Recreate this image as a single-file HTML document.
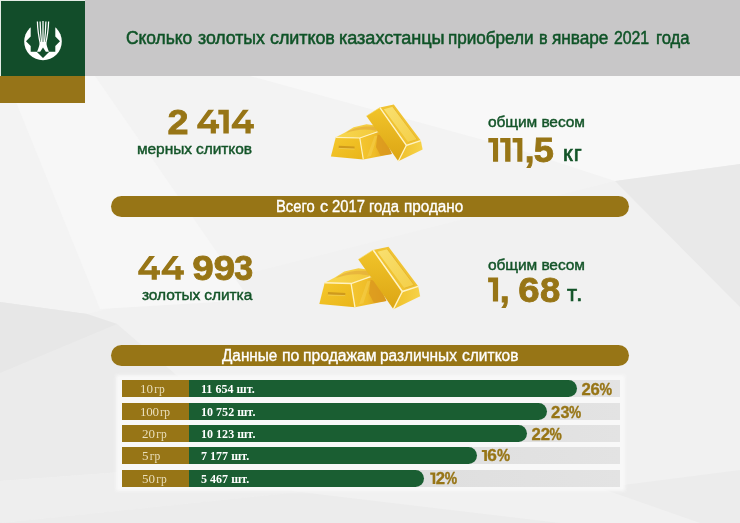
<!DOCTYPE html>
<html><head><meta charset="utf-8">
<style>
html,body{margin:0;padding:0;}
body{width:740px;height:523px;position:relative;overflow:hidden;background:#ededed;font-family:"Liberation Sans",sans-serif;}
.abs{position:absolute;}
.hdr{left:0;top:0;width:740px;height:76px;background:#c8c7c8;}
.logo{left:1px;top:1px;width:84px;height:75px;background:#124d2a;}
.logo2{left:0px;top:76px;width:85px;height:26.5px;background:#967418;}
.title{will-change:transform;left:0;top:27.8px;width:740px;height:20px;font-size:17.5px;line-height:20px;color:#0f5327;white-space:nowrap;letter-spacing:-0.05px;-webkit-text-stroke:0.5px #0f5327;}
.big{font-weight:bold;color:#977516;white-space:nowrap;font-size:34.6px;line-height:40px;}
.grn{color:#135428;white-space:nowrap;font-size:15.5px;line-height:18px;letter-spacing:-0.08px;-webkit-text-stroke:0.45px #135428;will-change:transform;}
.banner{left:111px;width:518px;height:21px;border-radius:10.5px;background:#977516;}
.btxt{will-change:transform;color:#fff;font-size:16px;line-height:18px;white-space:nowrap;-webkit-text-stroke:0.35px #fff;}
.panel{left:118px;top:377px;width:505px;height:112px;background:#f8f8f8;box-shadow:0 0 3px 2px #f8f8f8;}
.row{left:122px;width:498px;height:17px;}
.track{position:absolute;left:0;top:0;width:498px;height:17px;background:linear-gradient(90deg,#d8d8d8,#e3e3e3);}
.lab{position:absolute;left:0;top:0;width:67px;height:17px;background:#977516;}
.ltxt{will-change:transform;position:absolute;top:0;color:#eadfbc;font-family:"Liberation Serif",serif;font-size:13px;line-height:17px;white-space:nowrap;}
.bar{position:absolute;left:67px;top:0;height:17px;background:#1a5e32;border-radius:0 8.5px 8.5px 0;}
.cnt{will-change:transform;position:absolute;left:78.6px;letter-spacing:0.03px;top:1px;color:#fff;font-family:"Liberation Serif",serif;font-weight:bold;font-size:12px;line-height:17px;white-space:nowrap;}
.pct{will-change:transform;position:absolute;top:1.5px;letter-spacing:-0.3px;color:#977516;font-weight:bold;font-size:15.7px;line-height:17px;white-space:nowrap;}
.title span,.btxt span{position:absolute;top:0;transform-origin:0 0;}
</style></head><body>
<svg class="abs" style="left:0;top:0" width="740" height="523" viewBox="0 0 740 523">
  <rect x="0" y="0" width="740" height="523" fill="#f1f1f1"/>
  <polygon points="0,76 740,76 740,164 615,181 87,314 0,302" fill="#f3f3f3"/>
  <polygon points="16,102 85,102 85,76 95,76 250,300 100,309" fill="#f7f7f7"/>
  <polygon points="250,76 740,76 740,164 615,181 520,150" fill="#f8f8f8"/>
  <polygon points="615,181 740,164 740,307" fill="#e9e9e9"/>
  <polygon points="0,302 87,314 117,324 182,380 150,470 0,481" fill="#ebebeb"/>
  <polygon points="0,302 87,314 117,324 0,373" fill="#e7e7e7"/>
  <polygon points="0,481 150,470 300,492 0,523" fill="#eeeeee"/>
  <polygon points="0,523 300,492 560,523" fill="#ececec"/>
  <polygon points="600,488 740,470 740,523 700,523" fill="#ececec"/>
</svg>
<div class="abs hdr"></div>
<div class="abs" style="left:0;top:0;width:85px;height:76px;background:#e4ece6"></div>
<div class="abs logo"></div>
<div class="abs logo2"></div>
<svg class="abs" style="left:0;top:0" width="86" height="76" viewBox="0 0 86 76">
  <circle cx="43" cy="41.5" r="18.8" fill="#fff"/>
  <polygon fill="#124d2a" points="30.7,20 55.3,20 55.3,36.5 60,41.3 55.3,46 55.3,51.8 49.3,51.8 43,58 36.7,51.8 30.7,51.8 30.7,46 26,41.3 30.7,36.5"/>
  <g stroke="#fff" stroke-width="1.25" fill="none" stroke-linecap="butt">
    <path d="M37.4,21.5 C37.6,30 39,38 40.6,45"/>
    <path d="M40.1,21.5 C40.3,30 41,38 41.8,45"/>
    <path d="M43,21 C43,30 43,38 43,45"/>
    <path d="M45.9,21.5 C45.7,30 45,38 44.2,45"/>
    <path d="M48.6,21.5 C48.4,30 47,38 45.4,45"/>
  </g>
  <path fill="#fff" d="M40,42 L46,42 C46.5,45 47.5,48.5 49,51.8 L45.8,51.8 L43,47.5 L40.2,51.8 L37,51.8 C38.5,48.5 39.5,45 40,42 Z"/>
</svg>
<div class="abs title"><span style="left:126.20px;transform:scaleX(0.997)">Сколько</span><span style="left:198.00px;transform:scaleX(1.015)">золотых</span><span style="left:270.10px;transform:scaleX(1.024)">слитков</span><span style="left:338.66px;transform:scaleX(1.036)">казахстанцы</span><span style="left:448.22px;transform:scaleX(0.980)">приобрели</span><span style="left:539.38px;transform:scaleX(0.925)">в</span><span style="left:552.40px;transform:scaleX(0.984)">январе</span><span style="left:614.00px;transform:scaleX(0.905)">2021</span><span style="left:655.65px;transform:scaleX(0.954)">года</span></div>

<div class="abs grn" style="left:137px;top:140px;">мерных слитков</div>
<div class="abs grn" style="left:487.5px;top:113px;">общим весом</div>
<div class="abs grn" style="left:562.5px;top:143px;font-size:22px;line-height:22px;letter-spacing:1.2px;-webkit-text-stroke:0.7px #135428;">кг</div>

<svg class="abs" style="left:0;top:0" width="740" height="523" viewBox="0 0 740 523">
  <defs>
    <linearGradient id="gF" x1="0" y1="0" x2="1" y2="1"><stop offset="0" stop-color="#f5c82c"/><stop offset="1" stop-color="#e9b51a"/></linearGradient>
    <linearGradient id="gT" x1="0" y1="0" x2="1" y2="0"><stop offset="0" stop-color="#f8d850"/><stop offset="1" stop-color="#f3c93c"/></linearGradient>
    <linearGradient id="gR" x1="0" y1="0" x2="1" y2="0"><stop offset="0" stop-color="#f4c630"/><stop offset="0.45" stop-color="#efbd28"/><stop offset="1" stop-color="#d8941a"/></linearGradient>
    <linearGradient id="gL" x1="0" y1="0" x2="0" y2="1"><stop offset="0" stop-color="#f1c42a"/><stop offset="1" stop-color="#dca514"/></linearGradient>
    <linearGradient id="gP" x1="0" y1="0" x2="1" y2="1"><stop offset="0" stop-color="#f9e070"/><stop offset="1" stop-color="#f4cf48"/></linearGradient>
    <linearGradient id="gE" x1="0" y1="0" x2="1" y2="0"><stop offset="0" stop-color="#efc02a"/><stop offset="1" stop-color="#f6d248"/></linearGradient>
  </defs>

  <g id="gb">
  <!-- left bar top face -->
  <polygon points="335.8,137.3 359.8,138.0 377,132 376,125.5 366.5,124.2 353.6,127.2 345,132.5" fill="url(#gT)"/>
  <path d="M346,133 C352,128 362,125.5 376,126.8 L376.8,131 C366,128.5 356,129.5 346,133 Z" fill="#dfa63a" opacity="0.6"/>
  <!-- left bar right face -->
  <polygon points="359.8,138.0 377,132 384,136 392,154 363.3,159.5" fill="url(#gR)"/>
  <polygon points="377.5,134.5 384,136.5 391,154 380.5,155.5 376,147" fill="#dc9a1e" opacity="0.85"/>
  <polygon points="367,157 374.5,136 377.5,135.5 371,156" fill="#f8da62" opacity="0.35"/>
  <!-- left bar front -->
  <polygon points="330.9,156.6 335.8,137.3 359.8,138.0 363.3,159.5" fill="url(#gF)"/>
  <polyline points="335.8,137.3 359.8,138.0 377,132" fill="none" stroke="#fff2c0" stroke-width="1.2"/>
  <line x1="359.8" y1="138.0" x2="363.3" y2="159.5" stroke="#fff2c0" stroke-width="1.2"/>
  <polygon points="338.8,145.8 354.6,146.6 354.5,148.8 338.7,148.2" fill="#cf9a1c"/>
  <line x1="338.8" y1="148.4" x2="354.5" y2="149" stroke="#f8dc70" stroke-width="0.5"/>
  <!-- right bar left face -->
  <polygon points="366.4,116.1 379.9,107.6 406.4,145.3 398.3,161.3" fill="url(#gL)"/>
  <!-- right bar top face -->
  <polygon points="379.9,107.6 393.8,104.5 420.8,140.6 406.4,145.3" fill="#f0c332"/>
  <polygon points="383.8,109.2 392.8,106.8 417.3,139.5 408.3,142.3" fill="url(#gP)"/>
  <polyline points="392.8,106.8 417.3,139.5 408.3,142.3" fill="none" stroke="#e2b02a" stroke-width="0.7"/>
  <!-- end face -->
  <polygon points="406.4,145.3 420.8,140.6 422.6,149.5 398.3,161.3" fill="url(#gE)"/>
  <polyline points="379.9,107.6 406.4,145.3 420.8,140.6" fill="none" stroke="#fff3c4" stroke-width="1.4"/>
  <line x1="406.4" y1="145.3" x2="398.3" y2="161.3" stroke="#fff3c4" stroke-width="1.3"/>
  <line x1="366.4" y1="116.1" x2="379.9" y2="107.6" stroke="#f9dc6a" stroke-width="0.6"/>
</g>

  <use href="#gb" transform="matrix(1.1,0,0,1.1,-44.7,131.7)"/>
</svg>

<svg class="abs" style="left:0;top:0" width="740" height="523" viewBox="0 0 740 523"><g fill="#977516" font-family="Liberation Sans" font-weight="bold" font-size="34.6">
<text transform="translate(167.54,133.60) scale(1.093,1)" stroke="#977516" stroke-width="0.82">2</text>
<polygon points="208.24,109.80 214.08,109.80 203.22,123.98 210.73,123.98 210.73,119.82 215.92,119.82 215.92,123.98 219.10,123.98 219.10,128.58 215.92,128.58 215.92,133.60 210.73,133.60 210.73,128.58 197.20,128.58 197.20,125.08"/>
<polygon points="218.30,109.80 228.80,109.80 228.80,133.60 223.34,133.60 223.34,114.39 218.30,114.39"/>
<polygon points="242.89,109.80 248.82,109.80 237.81,123.98 245.42,123.98 245.42,119.82 250.68,119.82 250.68,123.98 253.90,123.98 253.90,128.58 250.68,128.58 250.68,133.60 245.42,133.60 245.42,128.58 231.70,128.58 231.70,125.08"/>
<polygon points="488.30,137.90 498.10,137.90 498.10,161.70 493.00,161.70 493.00,142.49 488.30,142.49"/>
<polygon points="500.20,137.90 510.50,137.90 510.50,161.70 505.14,161.70 505.14,142.49 500.20,142.49"/>
<polygon points="512.60,137.90 522.40,137.90 522.40,161.70 517.30,161.70 517.30,142.49 512.60,142.49"/>
<text transform="translate(524.78,161.70) scale(1.010,1)" stroke="#977516" stroke-width="0.89">,</text>
<text transform="translate(533.64,161.70) scale(1.046,1)" stroke="#977516" stroke-width="0.86">5</text>
<polygon points="149.19,256.00 155.01,256.00 144.19,270.13 151.67,270.13 151.67,265.98 156.84,265.98 156.84,270.13 160.00,270.13 160.00,274.70 156.84,274.70 156.84,279.70 151.67,279.70 151.67,274.70 138.20,274.70 138.20,271.22"/>
<polygon points="172.84,256.00 178.79,256.00 167.73,270.13 175.38,270.13 175.38,265.98 180.67,265.98 180.67,270.13 183.90,270.13 183.90,274.70 180.67,274.70 180.67,279.70 175.38,279.70 175.38,274.70 161.60,274.70 161.60,271.22"/>
<text transform="translate(192.21,279.70) scale(1.116,1)" stroke="#977516" stroke-width="0.81">9</text>
<text transform="translate(213.60,279.70) scale(1.122,1)" stroke="#977516" stroke-width="0.80">9</text>
<text transform="translate(234.27,279.70) scale(0.983,1)" stroke="#977516" stroke-width="0.92">3</text>
<polygon points="488.10,277.60 498.10,277.60 498.10,301.50 492.90,301.50 492.90,282.21 488.10,282.21"/>
<text transform="translate(499.83,301.50) scale(1.030,1)" stroke="#977516" stroke-width="0.87">,</text>
<text transform="translate(518.14,301.50) scale(1.112,1)" stroke="#977516" stroke-width="0.81">6</text>
<text transform="translate(540.09,301.50) scale(1.054,1)" stroke="#977516" stroke-width="0.85">8</text>
</g></svg>
<div class="abs banner" style="top:196px;"></div>
<div class="abs btxt" style="left:0;top:198px;width:740px;height:18px"><span style="left:276.48px;transform:scaleX(0.924)">Всего</span><span style="left:320.00px;transform:scaleX(1.013)">с</span><span style="left:332.20px;transform:scaleX(0.926)">2017</span><span style="left:369.07px;transform:scaleX(0.931)">года</span><span style="left:403.75px;transform:scaleX(0.954)">продано</span></div>

<div class="abs grn" style="left:141.5px;top:286px;">золотых слитка</div>
<div class="abs grn" style="left:487.5px;top:256px;">общим весом</div>
<div class="abs grn" style="left:566.5px;top:282.5px;font-size:22px;line-height:22px;letter-spacing:1.5px;-webkit-text-stroke:0.7px #135428;">т.</div>

<div class="abs banner" style="top:344.5px;"></div>
<div class="abs btxt" style="left:0;top:347px;width:740px;height:18px"><span style="left:222.10px;transform:scaleX(0.957)">Данные</span><span style="left:281.71px;transform:scaleX(0.994)">по</span><span style="left:302.52px;transform:scaleX(0.982)">продажам</span><span style="left:380.04px;transform:scaleX(0.965)">различных</span><span style="left:461.80px;transform:scaleX(0.971)">слитков</span></div>

<div class="abs panel"></div>
<div class="abs row" style="top:380px;"><div class="track"></div><div class="bar" style="width:388px"></div><div class="lab"></div><div class="ltxt" style="left:18px">10<span style="margin-left:1.3px;font-size:11.5px">гр</span></div><div class="cnt">11 654 шт.</div></div>
<div class="abs row" style="top:402.5px;"><div class="track"></div><div class="bar" style="width:358px"></div><div class="lab"></div><div class="ltxt" style="left:18px;letter-spacing:-0.3px">100<span style="margin-left:1.3px;font-size:11.5px">гр</span></div><div class="cnt">10 752 шт.</div></div>
<div class="abs row" style="top:425px;"><div class="track"></div><div class="bar" style="width:338px"></div><div class="lab"></div><div class="ltxt" style="left:19.5px">20<span style="margin-left:1.3px;font-size:11.5px">гр</span></div><div class="cnt">10 123 шт.</div></div>
<div class="abs row" style="top:447px;"><div class="track"></div><div class="bar" style="width:288px"></div><div class="lab"></div><div class="ltxt" style="left:19.5px">5<span style="margin-left:1.3px;font-size:11.5px">гр</span></div><div class="cnt">7 177 шт.</div></div>
<div class="abs row" style="top:469.5px;"><div class="track"></div><div class="bar" style="width:235px"></div><div class="lab"></div><div class="ltxt" style="left:19.5px">50<span style="margin-left:1.3px;font-size:11.5px">гр</span></div><div class="cnt">5 467 шт.</div></div>

<svg class="abs" style="left:0;top:0" width="740" height="523" viewBox="0 0 740 523"><g fill="#977516" font-family="Liberation Sans" font-weight="bold" font-size="16.1">
<text transform="translate(581.40,395.00) scale(1.039,1)" stroke="#977516" stroke-width="0.34">2</text>
<text transform="translate(590.57,395.00) scale(1.034,1)" stroke="#977516" stroke-width="0.34">6</text>
<text transform="translate(599.42,395.00) scale(0.878,1)" stroke="#977516" stroke-width="0.40">%</text>
<text transform="translate(551.00,417.70) scale(1.039,1)" stroke="#977516" stroke-width="0.34">2</text>
<text transform="translate(560.40,417.70) scale(1.006,1)" stroke="#977516" stroke-width="0.35">3</text>
<text transform="translate(569.03,417.70) scale(0.849,1)" stroke="#977516" stroke-width="0.41">%</text>
<text transform="translate(531.50,439.60) scale(1.039,1)" stroke="#977516" stroke-width="0.34">2</text>
<text transform="translate(540.70,439.60) scale(1.039,1)" stroke="#977516" stroke-width="0.34">2</text>
<text transform="translate(549.53,439.60) scale(0.856,1)" stroke="#977516" stroke-width="0.41">%</text>
<polygon points="481.80,449.90 486.90,449.90 486.90,461.00 484.25,461.00 484.25,452.04 481.80,452.04"/>
<text transform="translate(487.24,461.00) scale(1.073,1)" stroke="#977516" stroke-width="0.33">6</text>
<text transform="translate(497.01,461.00) scale(0.915,1)" stroke="#977516" stroke-width="0.38">%</text>
<polygon points="430.20,472.60 435.30,472.60 435.30,484.00 432.65,484.00 432.65,474.80 430.20,474.80"/>
<text transform="translate(435.70,484.00) scale(1.039,1)" stroke="#977516" stroke-width="0.34">2</text>
<text transform="translate(444.83,484.00) scale(0.864,1)" stroke="#977516" stroke-width="0.41">%</text>
</g></svg>
</body></html>
